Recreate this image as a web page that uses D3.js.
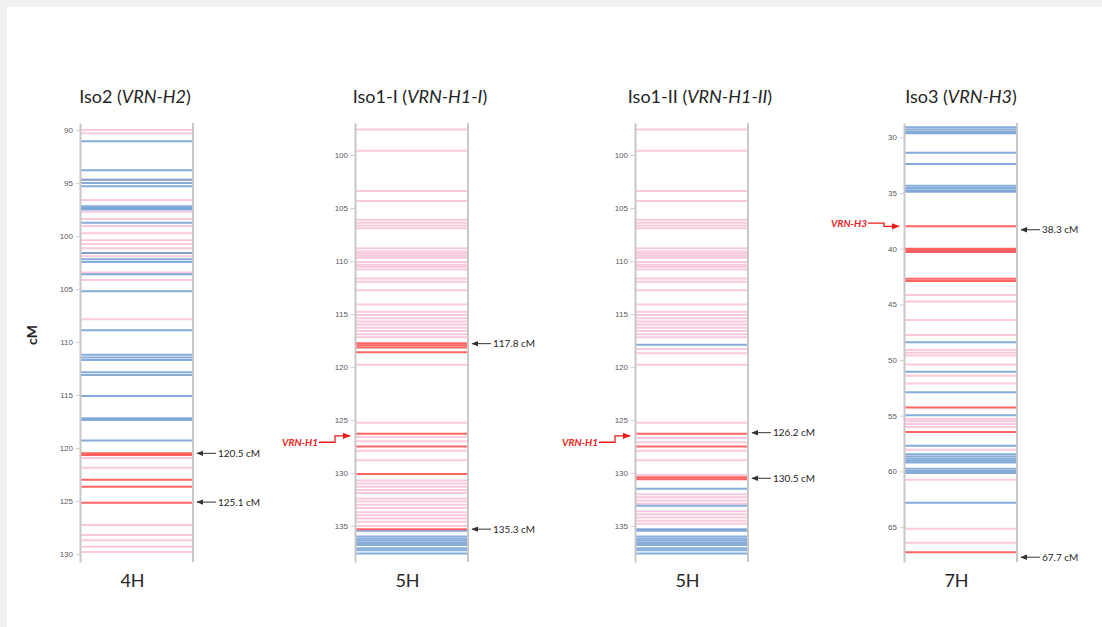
<!DOCTYPE html>
<html>
<head>
<meta charset="utf-8">
<script src="https://cdn.jsdelivr.net/npm/d3@7"></script>
<style>
  body { margin: 0; background: #f0f0f0; }
  svg { display: block; }
</style>
</head>
<body>
<div id="chart"></div>
<script>
const width = 1102
const height = 627

// marker positions (cM) per panel and colour class
const iso2Pink = [90.0, 90.3, 94.7, 96.6, 97.7, 98.4, 99.05, 99.75, 100.4, 100.75, 101.15, 101.6, 101.9, 103.45, 104.15, 107.85, 120.95, 121.85, 127.25, 128.2, 128.7, 129.3, 129.8]
const iso2Blue = [91.05, 93.8, 94.7, 95.0, 95.3, 97.2, 97.35, 97.5, 98.75, 101.6, 102.2, 102.45, 103.6, 105.2, 108.9, 111.2, 111.45, 111.7, 112.85, 113.1, 115.1, 117.2, 117.35, 119.3]
const iso2Red = [120.5, 120.65, 123.0, 123.65, 125.15]

const iso1IPink = [97.6, 99.6, 103.4, 104.35, 106.1, 106.4, 106.65, 106.9, 108.8, 109.1, 109.3, 109.5, 109.7, 110.1, 110.35, 110.55, 110.8, 111.65, 111.95, 112.75, 114.1, 114.8, 115.1, 115.4, 115.7, 116.0, 116.3, 116.6, 116.9, 117.2, 119.8, 125.25, 126.6, 127.0, 127.9, 128.8, 130.7, 131.0, 131.3, 131.6, 131.9, 132.4, 132.7, 133.0, 133.3, 133.7, 134.0, 134.3, 134.6, 135.0]
const iso1IBlue = [135.45, 136.0, 136.2, 136.4, 136.6, 136.8, 137.1, 137.3, 137.6]
const iso1IRed = [117.75, 117.95, 118.15, 118.6, 126.3, 127.5, 130.1, 135.3]

const iso1IIPink = [97.6, 99.6, 103.4, 104.35, 106.1, 106.4, 106.65, 106.9, 108.8, 109.1, 109.3, 109.5, 109.7, 110.1, 110.35, 110.55, 110.8, 111.65, 111.95, 112.75, 114.1, 114.8, 115.1, 115.4, 115.7, 116.0, 116.3, 116.6, 116.9, 117.2, 118.3, 118.7, 119.8, 125.25, 126.7, 127.1, 127.9, 128.8, 130.2, 132.0, 132.3, 132.6, 132.9, 133.6, 133.9, 134.2, 134.5, 134.8]
const iso1IIBlue = [117.9, 131.5, 133.1, 135.3, 135.45, 136.0, 136.2, 136.4, 136.6, 136.8, 137.1, 137.3, 137.6]
const iso1IIRed = [126.3, 127.5, 130.4, 130.6]

const iso3Pink = [44.15, 44.75, 46.4, 47.75, 49.1, 49.35, 49.6, 50.4, 51.4, 52.1, 55.3, 55.5, 55.75, 56.0, 58.05, 60.75, 65.15, 66.4]
const iso3Blue = [29.1, 29.3, 29.5, 29.65, 31.4, 32.4, 34.35, 34.55, 34.75, 34.9, 48.4, 51.05, 52.9, 54.95, 57.7, 58.45, 58.65, 58.85, 59.05, 59.2, 59.75, 59.95, 60.15, 62.8]
const iso3Red = [38.0, 40.0, 40.15, 40.3, 42.7, 42.9, 54.25, 56.45, 67.25]

// labelled positions (arrows on the right)
const iso2Marks = [120.5, 125.1]
const iso1IMarks = [117.8, 135.3]
const iso1IIMarks = [126.2, 130.5]
const iso3Marks = [38.3, 67.7]

// tick labels
const ticks4H = [90, 95, 100, 105, 110, 115, 120, 125, 130]
const ticks5H = [100, 105, 110, 115, 120, 125, 130, 135]
const ticks7H = [30, 35, 40, 45, 50, 55, 60, 65]

const colors = { pink: "#f9bcd6", blue: "#5d90cc", red: "#ff3030" }

const svg = d3.select("#chart")
  .append("svg")
  .attr("width", width)
  .attr("height", height)

svg.append("rect")
  .attr("x", 7).attr("y", 7)
  .attr("width", width - 7).attr("height", height - 7)
  .attr("fill", "#fff")

svg.append("text")
  .attr("transform", "translate(37, 335) rotate(-90)")
  .attr("text-anchor", "middle")
  .style("font", "bold 14px Lato, sans-serif")
  .attr("fill", "#222")
  .text("cM")

const colTop = 123
const colBottom = 562
const colWidth = 113

const panels = [
  { left: 80, domain: [89.34, 130.75], ticks: ticks4H, name: "Iso2", gene: "VRN-H2", titleX: 135, chrom: "4H",
    pink: iso2Pink, blue: iso2Blue, red: iso2Red, marks: iso2Marks },
  { left: 355, domain: [96.98, 138.4], ticks: ticks5H, name: "Iso1-I", gene: "VRN-H1-I", titleX: 420, chrom: "5H",
    pink: iso1IPink, blue: iso1IBlue, red: iso1IRed, marks: iso1IMarks, flag: { text: "VRN-H1", at: 126.5, from: 127.1 } },
  { left: 635, domain: [96.98, 138.4], ticks: ticks5H, name: "Iso1-II", gene: "VRN-H1-II", titleX: 700, chrom: "5H",
    pink: iso1IIPink, blue: iso1IIBlue, red: iso1IIRed, marks: iso1IIMarks, flag: { text: "VRN-H1", at: 126.5, from: 127.1 } },
  { left: 904, domain: [28.72, 68.13], ticks: ticks7H, name: "Iso3", gene: "VRN-H3", titleX: 961, chrom: "7H",
    pink: iso3Pink, blue: iso3Blue, red: iso3Red, marks: iso3Marks, flag: { text: "VRN-H3", at: 38.0, from: 37.7 } },
]

const defs = svg.append("defs")
defs.append("marker").attr("id", "headDark")
  .attr("viewBox", "0 0 10 10").attr("refX", 9).attr("refY", 5)
  .attr("markerWidth", 7).attr("markerHeight", 7).attr("orient", "auto")
  .append("path").attr("d", "M0,1 L10,5 L0,9 Z").attr("fill", "#333")
defs.append("marker").attr("id", "headRed")
  .attr("viewBox", "0 0 10 10").attr("refX", 9).attr("refY", 5)
  .attr("markerWidth", 6).attr("markerHeight", 6).attr("orient", "auto")
  .append("path").attr("d", "M0,1 L10,5 L0,9 Z").attr("fill", "#ee1c1c")

panels.forEach(p => {
  const y = d3.scaleLinear().domain(p.domain).range([colTop, colBottom])
  const right = p.left + colWidth
  const g = svg.append("g")

  // title
  const title = g.append("text")
    .attr("x", p.titleX).attr("y", 103)
    .attr("text-anchor", "middle")
    .style("font", "18px Lato, sans-serif")
    .attr("fill", "#262626")
  title.append("tspan").text(p.name + " (")
  title.append("tspan").style("font-style", "italic").text(p.gene)
  title.append("tspan").text(")")

  // markers
  const layers = [["pink", p.pink], ["blue", p.blue], ["red", p.red]]
  layers.forEach(([c, vals]) => {
    g.selectAll(null).data(vals).enter()
      .append("line")
      .attr("x1", p.left).attr("x2", right)
      .attr("y1", d => y(d)).attr("y2", d => y(d))
      .attr("stroke", colors[c])
      .attr("stroke-width", 2)
      .attr("stroke-opacity", c === "pink" ? 0.8 : 0.75)
  })

  // axis + column borders
  const axis = d3.axisLeft(y).tickValues(p.ticks).tickSize(4).tickSizeOuter(0).tickPadding(3)
  const ax = g.append("g").attr("transform", `translate(${p.left}, 0)`).call(axis)
  ax.select(".domain").attr("stroke", "#c8c8c8").attr("stroke-width", 2)
  ax.selectAll(".tick line").attr("stroke", "#d0d0d0")
  ax.selectAll(".tick text").style("font", "8px Arial, sans-serif").attr("fill", "#5a5a5a")
  g.append("line")
    .attr("x1", right).attr("x2", right)
    .attr("y1", colTop).attr("y2", colBottom)
    .attr("stroke", "#c8c8c8").attr("stroke-width", 2)

  // chromosome label
  g.append("text")
    .attr("x", p.left + colWidth / 2 - 4).attr("y", 587)
    .attr("text-anchor", "middle")
    .style("font", "18px Lato, sans-serif")
    .attr("fill", "#262626")
    .text(p.chrom)

  // labelled positions
  p.marks.forEach(m => {
    g.append("line")
      .attr("x1", right + 23).attr("x2", right + 4)
      .attr("y1", y(m)).attr("y2", y(m))
      .attr("stroke", "#333").attr("stroke-width", 1)
      .attr("marker-end", "url(#headDark)")
    g.append("text")
      .attr("x", right + 25).attr("y", y(m))
      .attr("dy", "0.35em")
      .style("font", "10px Lato, sans-serif")
      .attr("fill", "#262626")
      .text(`${m} cM`)
  })

  // gene flag on the left
  if (p.flag) {
    const ty = y(p.flag.from)
    const ay = y(p.flag.at)
    g.append("text")
      .attr("x", p.left - 37).attr("y", ty)
      .attr("dy", "0.35em")
      .attr("text-anchor", "end")
      .style("font", "italic bold 10px Lato, sans-serif")
      .attr("fill", "#ee1c1c")
      .text(p.flag.text)
    g.append("path")
      .attr("d", `M${p.left - 36},${ty} H${p.left - 20} V${ay} H${p.left - 5}`)
      .attr("fill", "none")
      .attr("stroke", "#ee1c1c").attr("stroke-width", 1.3)
      .attr("marker-end", "url(#headRed)")
  }
})
</script>
</body>
</html>
